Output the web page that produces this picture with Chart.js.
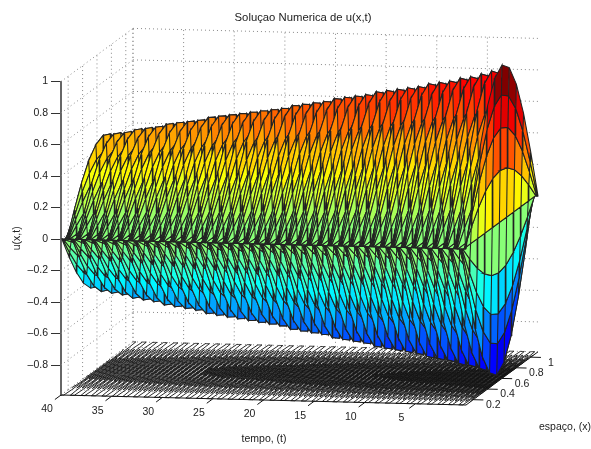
<!DOCTYPE html>
<html>
<head>
<meta charset="utf-8">
<script src="https://cdn.jsdelivr.net/npm/chart.js@4"></script>
<style>
  html, body { margin: 0; background: #fff; }
  canvas { display: block; }
</style>
</head>
<body>
<canvas id="surfaceChart" width="591" height="449"></canvas>
<script>
// x grid and the shape of u(x) along it
const xGrid = [0.1, 0.2, 0.3, 0.4, 0.5, 0.6, 0.7, 0.8, 0.9, 1.0, 1.1];
const xShape = [0, 0.31, 0.59, 0.81, 0.95, 1, 0.95, 0.81, 0.59, 0.31, 0];

// peak of u at each time row from t = 0 on, read from the end face arcs and the ridge, one wave per line
const timeStep = 0.0648;
const peaks = [
  1, 0.81, 0.6, 0.33, 0, -0.32, -0.58, -0.77, -0.97,
  -0.76, -0.58, -0.32, 0, 0.32, 0.58, 0.76, 0.96, 0.76, 0.58, 0.32, 0, -0.32, -0.58, -0.76,
  -0.94, -0.74, -0.56, -0.31, 0, 0.31, 0.56, 0.74, 0.94, 0.74, 0.56, 0.31, 0, -0.31, -0.56, -0.74,
  -0.92, -0.73, -0.56, -0.31, 0, 0.31, 0.56, 0.73, 0.92, 0.73, 0.56, 0.31, 0, -0.31, -0.56, -0.73,
  -0.91, -0.72, -0.55, -0.3, 0, 0.3, 0.55, 0.72, 0.91, 0.72, 0.55, 0.3, 0, -0.3, -0.55, -0.72,
  -0.89, -0.71, -0.54, -0.3, 0, 0.3, 0.54, 0.71, 0.89, 0.71, 0.54, 0.3, 0, -0.3, -0.54, -0.71,
  -0.88, -0.7, -0.53, -0.29, 0, 0.29, 0.53, 0.7, 0.88, 0.7, 0.53, 0.29, 0, -0.29, -0.53, -0.7,
  -0.87, -0.69, -0.52, -0.29, 0, 0.29, 0.52, 0.69, 0.87, 0.69, 0.52, 0.29, 0, -0.29, -0.52, -0.69,
  -0.85, -0.68, -0.51, -0.28, 0, 0.28, 0.51, 0.68, 0.85, 0.68, 0.51, 0.28, 0, -0.28, -0.51, -0.68,
  -0.84, -0.67, -0.51, -0.28, 0, 0.28, 0.51, 0.67, 0.84, 0.67, 0.51, 0.28, 0, -0.28, -0.51, -0.67,
  -0.83, -0.66, -0.5, -0.27, 0, 0.27, 0.5, 0.66, 0.83, 0.66, 0.5, 0.27, 0, -0.27, -0.5, -0.66,
  -0.82, -0.65, -0.49, -0.27, 0, 0.27, 0.49, 0.65, 0.82, 0.65, 0.49, 0.27, 0, -0.27, -0.49, -0.65,
  -0.81, -0.64, -0.49, -0.27, 0, 0.27, 0.49, 0.64, 0.81, 0.64, 0.49, 0.27, 0, -0.27, -0.49, -0.64,
  -0.79, -0.63, -0.48, -0.26, 0, 0.26, 0.48, 0.63, 0.79, 0.63, 0.48, 0.26, 0, -0.26, -0.48, -0.63,
  -0.78, -0.62, -0.47, -0.26, 0, 0.26, 0.47, 0.62, 0.78, 0.62, 0.47, 0.26, 0, -0.26, -0.47, -0.62,
  -0.77, -0.61, -0.46, -0.25, 0, 0.25, 0.46, 0.61, 0.77, 0.61, 0.46, 0.25, 0, -0.25, -0.46, -0.61,
  -0.76, -0.6, -0.46, -0.25, 0, 0.25, 0.46, 0.6, 0.76, 0.6, 0.46, 0.25, 0, -0.25, -0.46, -0.6,
  -0.74, -0.59, -0.45, -0.25, 0, 0.25, 0.45, 0.59, 0.74, 0.59, 0.45, 0.25, 0, -0.25, -0.45, -0.59,
  -0.73, -0.58, -0.44, -0.24, 0, 0.24, 0.44, 0.58, 0.73, 0.58, 0.44, 0.24, 0, -0.24, -0.44, -0.58,
  -0.72, -0.57, -0.43, -0.24, 0, 0.24, 0.43, 0.57, 0.72, 0.57, 0.43, 0.24, 0, -0.24, -0.43, -0.57,
  -0.71, -0.56, -0.43, -0.23, 0, 0.23, 0.43, 0.56, 0.71, 0.56, 0.43, 0.23, 0, -0.23, -0.43, -0.56,
  -0.69, -0.55, -0.42, -0.23, 0, 0.23, 0.42, 0.55, 0.69, 0.55, 0.42, 0.23, 0, -0.23, -0.42, -0.55,
  -0.68, -0.54, -0.41, -0.23, 0, 0.23, 0.41, 0.54, 0.68, 0.54, 0.41, 0.23, 0, -0.23, -0.41, -0.54,
  -0.67, -0.53, -0.41, -0.22, 0, 0.22, 0.41, 0.53, 0.67, 0.53, 0.41, 0.22, 0, -0.22, -0.41, -0.53,
  -0.66, -0.53, -0.4, -0.22, 0, 0.22, 0.4, 0.53, 0.66, 0.53, 0.4, 0.22, 0, -0.22, -0.4, -0.53,
  -0.65, -0.52, -0.39, -0.22, 0, 0.22, 0.39, 0.52, 0.65, 0.52, 0.39, 0.22, 0, -0.22, -0.39, -0.52,
  -0.64, -0.51, -0.38, -0.21, 0, 0.21, 0.38, 0.51, 0.64, 0.51, 0.38, 0.21, 0, -0.21, -0.38, -0.51,
  -0.63, -0.5, -0.38, -0.21, 0, 0.21, 0.38, 0.5, 0.63, 0.5, 0.38, 0.21, 0, -0.21, -0.38, -0.5,
  -0.62, -0.49, -0.37, -0.2, 0, 0.2, 0.37, 0.49, 0.62, 0.49, 0.37, 0.2, 0, -0.2, -0.37, -0.49,
  -0.6, -0.48, -0.36, -0.2, 0, 0.2, 0.36, 0.48, 0.6, 0.48, 0.36, 0.2, 0, -0.2, -0.36, -0.48,
  -0.59, -0.47, -0.36, -0.2, 0, 0.2, 0.36, 0.47, 0.59, 0.47, 0.36, 0.2, 0, -0.2, -0.36, -0.47,
  -0.58, -0.46, -0.35, -0.19, 0, 0.19, 0.35, 0.46, 0.58, 0.46, 0.35, 0.19, 0, -0.19, -0.35, -0.46,
  -0.57, -0.45, -0.34, -0.19, 0, 0.19, 0.34, 0.45, 0.57, 0.45, 0.34, 0.19, 0, -0.19, -0.34, -0.45,
  -0.55, -0.44, -0.33, -0.18, 0, 0.18, 0.33, 0.44, 0.55, 0.44, 0.33, 0.18, 0, -0.18, -0.33, -0.44,
  -0.54, -0.43, -0.33, -0.18, 0, 0.18, 0.33, 0.43, 0.54, 0.43, 0.33, 0.18, 0, -0.18, -0.33, -0.43,
  -0.53, -0.42, -0.32, -0.17, 0, 0.17, 0.32, 0.42, 0.53, 0.42, 0.32, 0.17, 0, -0.17, -0.32, -0.42,
  -0.51, -0.41, -0.31, -0.17, 0, 0.17, 0.31, 0.41, 0.51, 0.41, 0.31, 0.17, 0, -0.17, -0.31, -0.41,
  -0.5, -0.4, -0.3, -0.17, 0, 0.17, 0.3, 0.4, 0.5, 0.4, 0.3, 0.17, 0, -0.17, -0.3, -0.4,
  -0.49, -0.39, -0.29, -0.16, 0, 0.16, 0.29, 0.39, 0.49, 0.39, 0.29, 0.16, 0, -0.16, -0.29, -0.39,
  -0.47
];

const uTicks = [-0.8, -0.6, -0.4, -0.2, 0, 0.2, 0.4, 0.6, 0.8, 1];
const tTicks = [40, 35, 30, 25, 20, 15, 10, 5];
const xTicks = [0.2, 0.4, 0.6, 0.8, 1];
const contourLevels = [-0.8, -0.6, -0.4, -0.2, 0, 0.2, 0.4, 0.6, 0.8];

const uMin = -0.99;
const xStart = 0.1;

const times = peaks.map((p, i) => i * timeStep);
const uAt = (row, col) => peaks[row] * xShape[col];

// oblique 3d view folded onto the two chart scales: horizontal in t units, vertical in u units
function project(t, x, u) {
  const f = x - xStart;
  return { x: t - 7.11 * f, y: u - (40 - t) * 0.00159 + 0.3376 * f };
}

function jet(u) {
  const level = Math.floor(Math.min(0.999, Math.max(0, (u + 1) / 2)) * 64) / 63;
  const ramp = v => Math.round(255 * Math.min(1, Math.max(0, 1.5 - Math.abs(4 * level - v))));
  return `rgb(${ramp(3)},${ramp(2)},${ramp(1)})`;
}

const gap = { x: NaN, y: NaN };

// one dataset per strip between two time rows, each cell closed and split off by a gap
function stripDataset(row) {
  const points = [];
  const colors = [];
  for (let col = xGrid.length - 2; col >= 0; col--) {
    const a = project(times[row], xGrid[col], uAt(row, col));
    const b = project(times[row], xGrid[col + 1], uAt(row, col + 1));
    const c = project(times[row + 1], xGrid[col + 1], uAt(row + 1, col + 1));
    const d = project(times[row + 1], xGrid[col], uAt(row + 1, col));
    points.push(a, b, c, d, a, gap);
    colors.push(jet(uAt(row, col)));
  }
  return {
    data: points, cellColors: colors, showLine: true, pointRadius: 0, clip: false,
    borderColor: '#222', borderWidth: 1.05, backgroundColor: 'transparent'
  };
}

// contour lines of the same grid, laid on the floor
function contourPoints() {
  const points = [];
  const cross = (t0, x0, u0, t1, x1, u1, level) => {
    const s = (level - u0) / (u1 - u0);
    return project(t0 + s * (t1 - t0), x0 + s * (x1 - x0), uMin);
  };
  for (let row = 0; row < times.length - 1; row++) {
    for (let col = 0; col < xGrid.length - 1; col++) {
      const corners = [[row, col], [row, col + 1], [row + 1, col + 1], [row + 1, col]];
      contourLevels.forEach(level => {
        const hits = [];
        corners.forEach((p, i) => {
          const q = corners[(i + 1) % 4];
          const u0 = uAt(p[0], p[1]);
          const u1 = uAt(q[0], q[1]);
          if ((u0 < level) !== (u1 < level)) {
            hits.push(cross(times[p[0]], xGrid[p[1]], u0, times[q[0]], xGrid[q[1]], u1, level));
          }
        });
        for (let i = 0; i + 1 < hits.length; i += 2) points.push(hits[i], hits[i + 1], gap);
      });
    }
  }
  return points;
}

function gridPoints() {
  const points = [];
  const add = (a, b) => points.push(project(a[0], a[1], a[2]), project(b[0], b[1], b[2]), gap);
  uTicks.forEach(u => {
    add([40, 0.1, u], [40, 1.1, u]);
    add([40, 1.1, u], [0, 1.1, u]);
  });
  tTicks.forEach(t => {
    add([t, 1.1, uMin], [t, 1.1, 1]);
    add([t, 0.1, uMin], [t, 1.1, uMin]);
  });
  xTicks.forEach(x => {
    add([40, x, uMin], [40, x, 1]);
    add([40, x, uMin], [0, x, uMin]);
  });
  add([40, 1.1, uMin], [40, 1.1, 1]);
  add([40, 0.1, uMin], [40, 1.1, uMin]);
  add([40, 1.1, uMin], [0, 1.1, uMin]);
  return points;
}

function axisPoints() {
  const points = [];
  const add = (a, b) => points.push(project(a[0], a[1], a[2]), project(b[0], b[1], b[2]), gap);
  add([40, 0.1, uMin], [0, 0.1, uMin]);
  add([0, 0.1, uMin], [0, 1.1, uMin]);
  tTicks.forEach(t => add([t, 0.1, uMin], [t, 0.015, uMin]));
  xTicks.forEach(x => add([0, x, uMin], [-1, x, uMin]));
  return points;
}

const lineSet = (data, color, width, dash) => ({
  data, showLine: true, pointRadius: 0, clip: false,
  borderColor: color, borderWidth: width, borderDash: dash || [], backgroundColor: 'transparent'
});

// dataset 0 is painted last, so the order runs from the front to the back
const datasets = [lineSet(axisPoints(), '#111', 1)];
for (let row = 0; row < times.length - 1; row++) datasets.push(stripDataset(row));
datasets.push(lineSet(contourPoints(), '#111', 0.9));
datasets.push(lineSet(gridPoints(), '#888', 1, [1, 3]));

const cellFill = {
  id: 'cellFill',
  beforeDatasetDraw(chart, args) {
    const ds = chart.data.datasets[args.index];
    if (!ds.cellColors) return;
    const ctx = chart.ctx;
    const pts = args.meta.data;
    ds.cellColors.forEach((color, q) => {
      ctx.beginPath();
      for (let k = 0; k < 4; k++) {
        const p = pts[q * 6 + k];
        if (k === 0) ctx.moveTo(p.x, p.y); else ctx.lineTo(p.x, p.y);
      }
      ctx.closePath();
      ctx.fillStyle = color;
      ctx.fill();
    });
  }
};

// labels of the two slanted axes sit at projected tick positions
const slantedLabels = {
  id: 'slantedLabels',
  afterDraw(chart) {
    const { ctx, scales } = chart;
    const at = (t, x, u) => {
      const p = project(t, x, u);
      return [scales.x.getPixelForValue(p.x), scales.y.getPixelForValue(p.y)];
    };
    ctx.save();
    ctx.font = '10.5px "Liberation Sans"';
    ctx.fillStyle = '#222';
    ctx.textAlign = 'center';
    ctx.textBaseline = 'middle';
    tTicks.forEach(t => {
      const [px, py] = at(t, 0.1, uMin);
      ctx.fillText(String(t), px - 14, py + 14.5);
    });
    xTicks.forEach(x => {
      const [px, py] = at(0, x, uMin);
      ctx.fillText(String(x), px + 20, py + 5.5);
    });
    ctx.fillText('tempo, (t)', 264, 439);
    ctx.fillText('espaço, (x)', 565, 427);
    ctx.restore();
  }
};

new Chart(document.getElementById('surfaceChart').getContext('2d'), {
  type: 'scatter',
  data: { datasets },
  plugins: [cellFill, slantedLabels],
  options: {
    responsive: false,
    animation: false,
    events: [],
    layout: { padding: { left: 0, right: 46, top: 0, bottom: 54 } },
    plugins: {
      legend: { display: false },
      tooltip: { enabled: false },
      title: {
        display: true,
        fullSize: false,
        text: 'Soluçao Numerica de u(x,t)',
        color: '#222',
        font: { family: '"Liberation Sans"', size: 11.3, weight: 'normal' },
        padding: { top: 11, bottom: 57 }
      }
    },
    scales: {
      x: { type: 'linear', reverse: true, min: -7.8, max: 40, display: false },
      y: {
        type: 'linear',
        min: uMin,
        max: 1,
        afterFit(scale) { scale.width = 61; },
        title: {
          display: true,
          text: 'u(x,t)',
          color: '#222',
          font: { family: '"Liberation Sans"', size: 10.5 },
          padding: { top: 11, bottom: 0 }
        },
        border: { color: '#666', width: 2 },
        grid: { drawOnChartArea: false, drawTicks: true, tickLength: 10, color: '#333' },
        ticks: {
          stepSize: 0.2,
          includeBounds: false,
          padding: 3,
          color: '#222',
          font: { family: '"Liberation Sans"', size: 10.5 },
          callback(v) {
            const r = Math.round(v * 10) / 10;
            return r < 0 ? '–' + Math.abs(r) : String(r);
          }
        }
      }
    }
  }
});
</script>
</body>
</html>
